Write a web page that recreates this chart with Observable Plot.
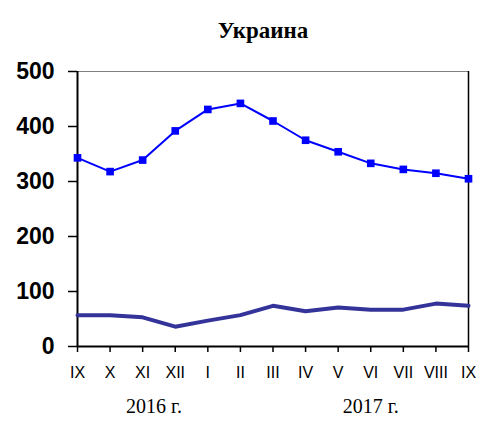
<!DOCTYPE html>
<html><head><meta charset="utf-8">
<script src="https://cdn.jsdelivr.net/npm/d3@7"></script>
<script src="https://cdn.jsdelivr.net/npm/@observablehq/plot@0.6"></script>
<style>body{margin:0;background:#fff}</style>
</head><body><div id="chart"></div>
<script>
const months = ["IX","X","XI","XII","I","II","III","IV","V","VI","VII","VIII","IX"];
const seriesA = [343, 318, 339, 392, 431, 442, 410, 375, 354, 333, 322, 315, 305];
const seriesB = [57, 57, 53, 36, 47, 57, 74, 64, 71, 67, 67, 78, 74];
const yTicks = [0, 100, 200, 300, 400, 500];
const title = "Украина";
const yearLabels = ["2016 г.", "2017 г."];
const yearAt = [2.35, 9];

const A = seriesA.map((v, i) => ({i, v}));
const B = seriesB.map((v, i) => ({i, v}));
const Y = yearLabels.map((t, k) => ({t, x: yearAt[k]}));

const chart = Plot.plot({
  width: 486, height: 428,
  marginLeft: 77, marginRight: 18, marginTop: 71, marginBottom: 82,
  style: {background: "#fff", overflow: "visible"},
  x: {domain: [0, 12], ticks: d3.range(13), tickFormat: d => months[d], tickSize: 6, label: null},
  y: {domain: [0, 500], ticks: yTicks, label: null},
  marks: [
    Plot.ruleY([500], {stroke: "#808080", strokeWidth: 1}),
    Plot.ruleX([12], {stroke: "#000", strokeWidth: 1.5}),
    Plot.ruleX([0], {stroke: "#000", strokeWidth: 2}),
    Plot.ruleY([0], {stroke: "#000", strokeWidth: 2}),
    Plot.axisY({ticks: yTicks, tickSize: 9, tickPadding: 14, fontSize: 23, fontWeight: "bold", fontFamily: "Liberation Sans, Arial, sans-serif", fill: "#000", stroke: "#000", strokeWidth: 1.5, label: null}),
    Plot.axisX({ticks: d3.range(13), tickFormat: d => months[d], tickSize: 6, tickPadding: 14, fontSize: 16, fontFamily: "Liberation Sans, Arial, sans-serif", fill: "#000", stroke: "#000", strokeWidth: 1.5, label: null}),
    Plot.line(B, {x: "i", y: "v", stroke: "#333399", strokeWidth: 4}),
    Plot.line(A, {x: "i", y: "v", stroke: "#0000ff", strokeWidth: 2}),
    Plot.dot(A, {x: "i", y: "v", symbol: "square", r: 4.3, fill: "#0000ff", stroke: "none"}),
    Plot.text(Y, {x: "x", text: "t", frameAnchor: "bottom", dy: 66, fontSize: 20, fontFamily: "Liberation Serif, Times New Roman, serif", fill: "#000"}),
    Plot.text([title], {text: d => d, frameAnchor: "top", dx: -10, dy: -50, fontSize: 23, fontWeight: "bold", letterSpacing: 1, fontFamily: "Liberation Serif, Times New Roman, serif", fill: "#000"})
  ]
});
document.getElementById("chart").append(chart);
</script>
</body></html>
